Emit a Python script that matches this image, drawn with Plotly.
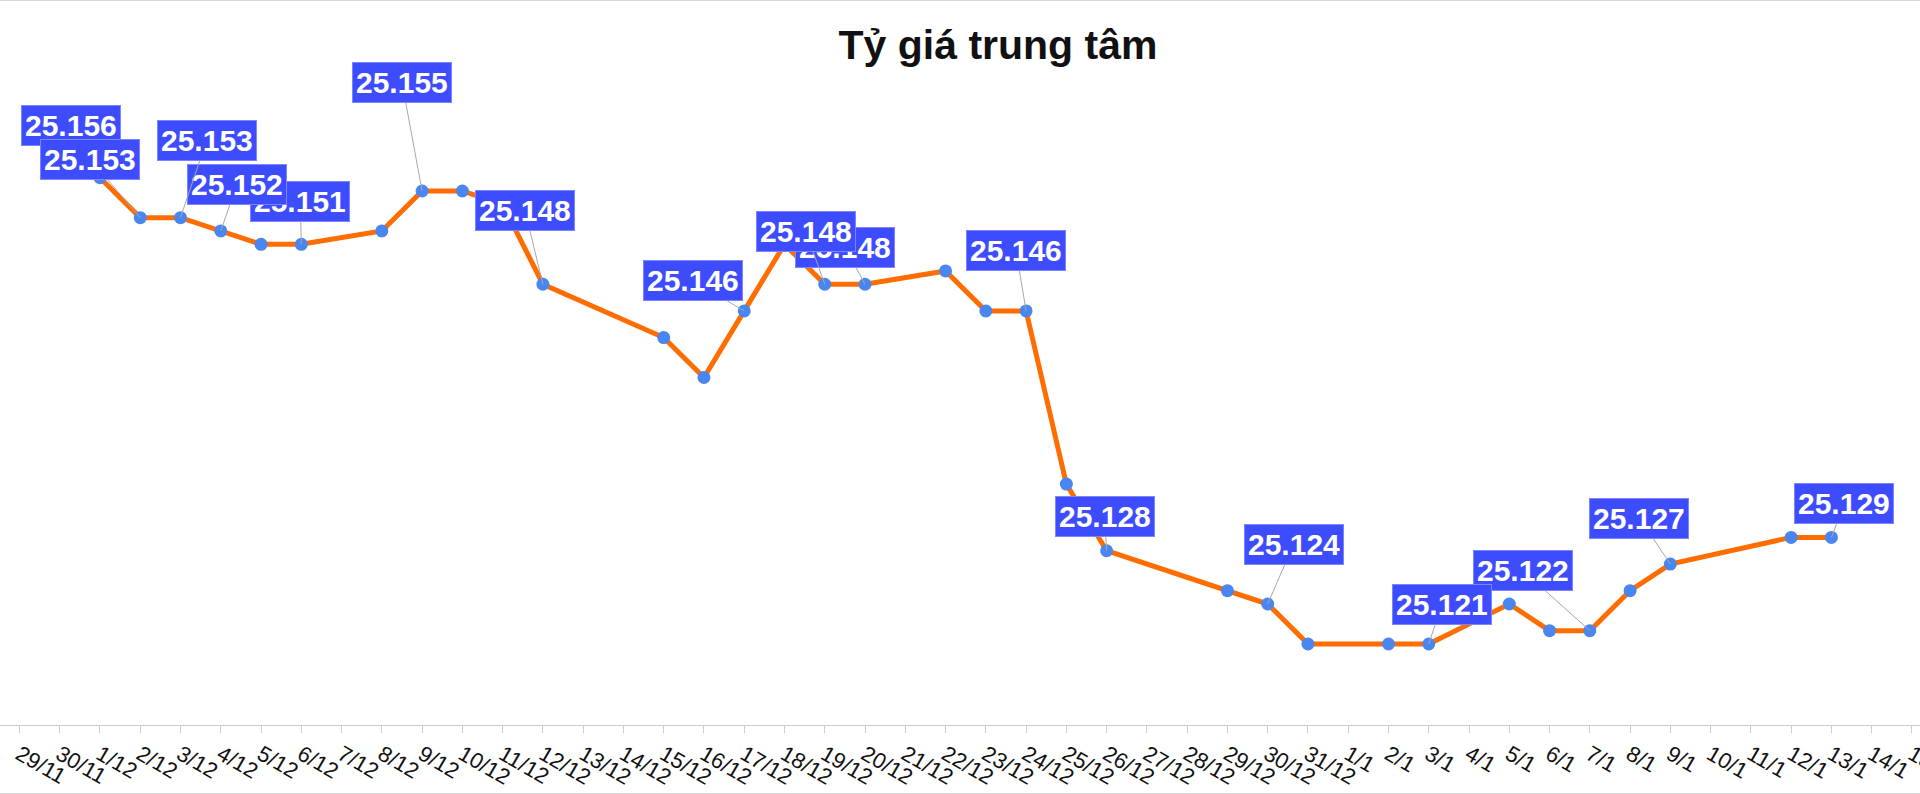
import plotly.graph_objects as go

# ---- data ----
axis_dates = ["28/11", "29/11", "30/11",
              "1/12", "2/12", "3/12", "4/12", "5/12", "6/12", "7/12", "8/12", "9/12", "10/12",
              "11/12", "12/12", "13/12", "14/12", "15/12", "16/12", "17/12", "18/12", "19/12",
              "20/12", "21/12", "22/12", "23/12", "24/12", "25/12", "26/12", "27/12", "28/12",
              "29/12", "30/12", "31/12",
              "1/1", "2/1", "3/1", "4/1", "5/1", "6/1", "7/1", "8/1", "9/1", "10/1", "11/1",
              "12/1", "13/1", "14/1", "15/1"]

dates = ["1/12", "2/12", "3/12", "4/12", "5/12", "6/12", "8/12", "9/12", "10/12", "11/12",
         "12/12", "15/12", "16/12", "17/12", "18/12", "19/12", "20/12", "22/12", "23/12",
         "24/12", "25/12", "26/12", "29/12", "30/12", "31/12", "2/1", "3/1", "5/1", "6/1",
         "7/1", "8/1", "9/1", "12/1", "13/1"]
rates = [25156, 25153, 25153, 25152, 25151, 25151, 25152, 25155, 25155, 25154,
         25148, 25144, 25141, 25146, 25151, 25148, 25148, 25149, 25146,
         25146, 25133, 25128, 25125, 25124, 25121, 25121, 25121, 25124, 25122,
         25122, 25125, 25127, 25129, 25129]

# labelled points (drawing order) and label offsets in pixels
label_dates = ["1/12", "2/12", "6/12", "4/12", "3/12", "9/12", "12/12", "17/12", "20/12",
               "19/12", "24/12", "26/12", "30/12", "7/1", "3/1", "9/1", "13/1"]
label_dx = [-29, -50, -1, 16, 26, -20, -18, -51, -20, -19, -10, -2, 26, -67, 13, -31, 13]
label_dy = [-52, -58, -43, -46, -77, -108, -74, -30, -37, -53, -60, -34, -60, -60, -39, -46, -34]

FONT = "Liberation Sans, Arial, sans-serif"

def vn(v):
    return f"{v:,}".replace(",", ".")

fig = go.Figure()
fig.add_trace(go.Scatter(
    x=dates, y=rates, mode="lines+markers",
    line=dict(color="#FF6D00", width=5),
    marker=dict(color="#4A86F0", size=13),
    hoverinfo="x+y", showlegend=False,
))

rate_of = dict(zip(dates, rates))
for d, dx, dy in zip(label_dates, label_dx, label_dy):
    fig.add_annotation(
        x=d, y=rate_of[d], xref="x", yref="y",
        text=f"<b>{vn(rate_of[d])}</b>",
        showarrow=True, arrowhead=0, arrowwidth=1, arrowcolor="#A8A8A8",
        standoff=0, ax=dx, ay=dy,
        font=dict(family=FONT, size=30, color="white"),
        bgcolor="#3D4CFF", bordercolor="#7A85FF", borderwidth=1, borderpad=3,
    )

# thin frame lines at top and bottom of the page
plot_h = 794 - 80 - 69
for ypx in (0.5, 793.5):
    yp = (725 - ypx) / plot_h
    fig.add_shape(type="line", xref="paper", yref="paper", x0=0, x1=1, y0=yp, y1=yp,
                  line=dict(color="#D6D6D6", width=1))

fig.update_layout(
    width=1920, height=794,
    margin=dict(l=0, r=0, t=80, b=69, autoexpand=False),
    paper_bgcolor="white", plot_bgcolor="white",
    title=dict(text="<b>Tỷ giá trung tâm</b>", x=998 / 1920, xanchor="center",
               y=1 - 45 / 794, yanchor="middle",
               font=dict(family=FONT, size=41, color="#111111")),
    font=dict(family=FONT),
    xaxis=dict(type="category", categoryorder="array", categoryarray=axis_dates,
               tickmode="array", tickvals=axis_dates, ticktext=axis_dates,
               range=[0.517, 48.2], showgrid=False, zeroline=False, automargin=False,
               showline=True, linecolor="#CCCCCC", linewidth=1,
               ticks="outside", ticklen=7, tickcolor="#CCCCCC",
               tickangle=30, tickfont=dict(family=FONT, size=22, color="#111111")),
    yaxis=dict(range=[25114.92, 25163.33], visible=False, showgrid=False, automargin=False),
    separators=",.",
)

fig.write_html("out.html")
